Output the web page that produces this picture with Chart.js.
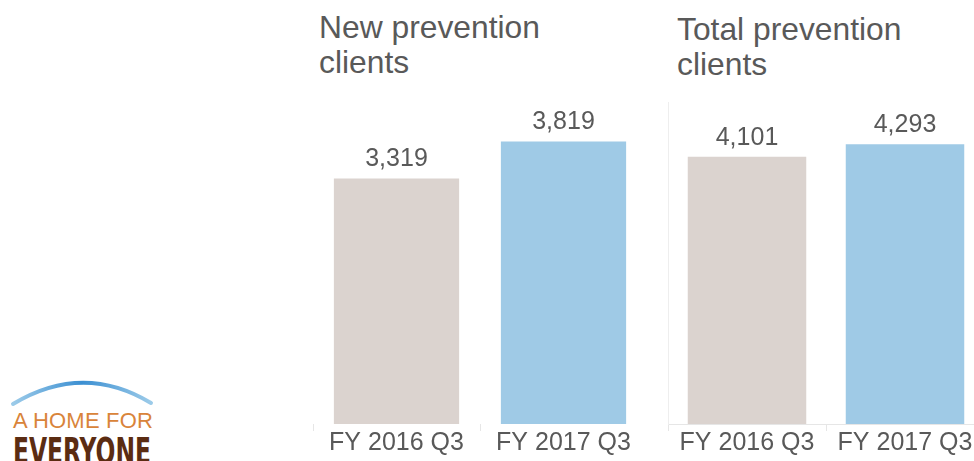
<!DOCTYPE html>
<html>
<head>
<meta charset="utf-8">
<script src="https://cdn.jsdelivr.net/npm/chart.js@4/dist/chart.umd.min.js"></script>
<style>
  html, body { margin: 0; padding: 0; background: #fff; overflow: hidden; width: 974px; height: 461px; }
  body { position: relative; font-family: 'Liberation Sans', Arial, sans-serif; }
  .title { position: absolute; font-size: 31.8px; line-height: 35px; color: #595959; white-space: nowrap; }
  .box { position: absolute; }
  #logo1 { position: absolute; left: 13px; top: 410px; font-size: 22px; line-height: 22px; color: #d9843a; white-space: nowrap; letter-spacing: 0.2px; }
  #logo2 { position: absolute; left: 13px; top: 433px; font-family: 'DejaVu Sans Condensed', 'DejaVu Sans', sans-serif; font-weight: bold; font-size: 37px; line-height: 37px; color: #5b2c12; white-space: nowrap; transform-origin: 0 0; }
</style>
</head>
<body>
<div class="title" style="left:319px; top:10px;">New prevention<br>clients</div>
<div class="title" style="left:677px; top:12px;">Total prevention<br>clients</div>

<div class="box" style="left:313px; top:102px; width:334px; height:360px;"><canvas id="c1"></canvas></div>
<div class="box" style="left:667px; top:102px; width:317px; height:360px;"><canvas id="c2"></canvas></div>

<svg style="position:absolute; left:0; top:0;" width="170" height="461">
  <defs>
    <linearGradient id="arcg" x1="0" y1="0" x2="1" y2="0">
      <stop offset="0" stop-color="#9ccbe9"/>
      <stop offset="0.5" stop-color="#3b8fd2"/>
      <stop offset="1" stop-color="#9ccbe9"/>
    </linearGradient>
  </defs>
  <path d="M13 404 Q 83 362 151 403" fill="none" stroke="url(#arcg)" stroke-width="4" stroke-linecap="round"/>
</svg>
<div id="logo1">A HOME FOR</div>
<div id="logo2">EVERYONE</div>

<script>
// ---- data ----
const categories = ['FY 2016 Q3', 'FY 2017 Q3'];
const newClients = [3319, 3819];
const totalClients = [4101, 4293];
const panelTitles = ['New prevention clients', 'Total prevention clients'];
const barColors = ['#dbd3cf', '#9fcae6'];

// fit logo word width
(function () {
  const el = document.getElementById('logo2');
  const w = el.getBoundingClientRect().width;
  el.style.transform = 'scaleX(' + (138 / w) + ')';
})();

const FONT = "'Liberation Sans', Arial, sans-serif";
const TEXT = '#595959';

const valueLabels = {
  id: 'valueLabels',
  afterDatasetsDraw(chart) {
    const ctx = chart.ctx;
    const meta = chart.getDatasetMeta(0);
    const data = chart.data.datasets[0].data;
    ctx.save();
    ctx.font = '25px ' + FONT;
    ctx.fillStyle = TEXT;
    ctx.textAlign = 'center';
    ctx.textBaseline = 'middle';
    meta.data.forEach((bar, i) => {
      ctx.fillText(data[i].toLocaleString('en-US'), bar.x, bar.y - 19);
    });
    ctx.restore();
  }
};

function makeChart(id, values, yMax, framed) {
  return new Chart(document.getElementById(id), {
    type: 'bar',
    data: {
      labels: categories,
      datasets: [{
        data: values,
        backgroundColor: barColors,
        borderWidth: 0,
        barPercentage: 0.75,
        categoryPercentage: 1
      }]
    },
    options: {
      responsive: true,
      maintainAspectRatio: false,
      animation: false,
      layout: { padding: { left: framed ? 1 : 0, right: 0, top: 0, bottom: 0 } },
      plugins: { legend: { display: false }, tooltip: { enabled: false } },
      scales: {
        x: {
          offset: true,
          grid: {
            offset: true,
            drawOnChartArea: false,
            drawTicks: true,
            tickLength: 7,
            color: (c) => (c.index === 2 ? 'rgba(0,0,0,0)' : '#e6e6e6')
          },
          border: { display: framed, color: '#e6e6e6' },
          ticks: {
            color: TEXT,
            font: { family: FONT, size: 25, lineHeight: 1 },
            padding: 0,
            maxRotation: 0,
            autoSkip: false
          },
          afterFit: (s) => { s.height = 38; }
        },
        y: {
          display: framed,
          min: 0,
          max: yMax,
          grid: { display: false },
          border: { display: framed, color: '#eeeeee' },
          ticks: { display: false },
          afterFit: (s) => { s.width = 0; }
        }
      }
    },
    plugins: [valueLabels]
  });
}

makeChart('c1', newClients, 4353, false);
makeChart('c2', totalClients, 4940, true);
</script>
</body>
</html>
